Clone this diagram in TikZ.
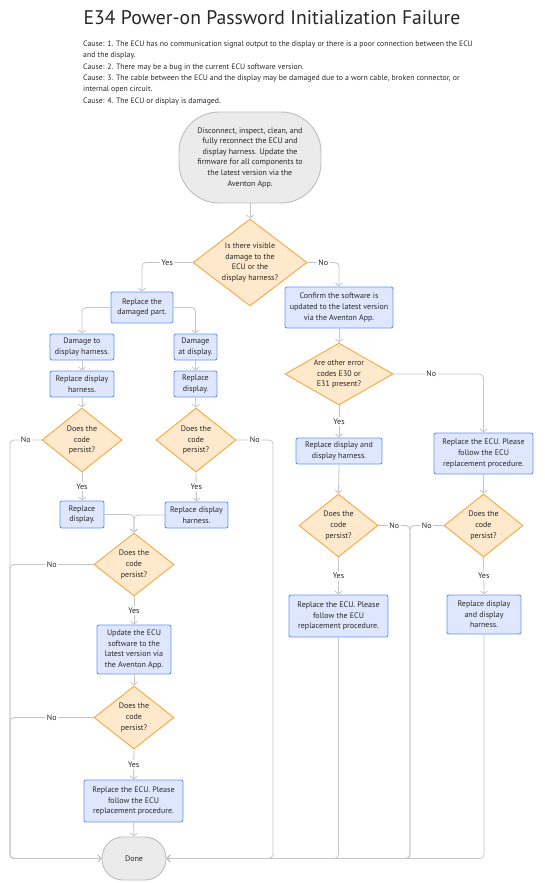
\documentclass[tikz,border=0pt]{standalone}
\usepackage{fontspec}
\setmainfont{PT Sans}
\usetikzlibrary{shapes.geometric,arrows.meta}
\definecolor{boxfill}{RGB}{222,231,253}
\definecolor{boxline}{RGB}{100,149,245}
\definecolor{diafill}{RGB}{255,233,204}
\definecolor{dialine}{RGB}{247,166,65}
\definecolor{termfill}{RGB}{235,235,235}
\definecolor{termline}{RGB}{190,190,190}
\definecolor{linec}{RGB}{196,197,202}
\definecolor{txt}{RGB}{40,40,40}
\begin{document}
\begin{tikzpicture}[x=1pt,y=-1pt,
  font=\fontsize{8}{10.6}\selectfont, text=txt,
  box/.style={draw=boxline, fill=boxfill, rounded corners=2pt, line width=0.9pt, align=center, inner sep=0pt},
  term/.style={draw=termline, fill=termfill, line width=0.9pt, align=center, inner sep=0pt},
  dia/.style={diamond, draw=dialine, fill=diafill, line width=0.9pt, inner sep=0pt},
  dtext/.style={align=center, text=txt, inner sep=0pt},
  conn/.style={draw=linec, line width=0.8pt, rounded corners=4pt},
  arr/.style={conn, -{Straight Barb[length=3pt,width=7pt]}},
  lbl/.style={fill=white, inner sep=1.5pt, text=txt}]
\useasboundingbox (0,0) rectangle (544,883);
\fill[white] (0,0) rectangle (544,883);

\node[anchor=base, font=\fontsize{19.7}{22}\selectfont] (title) at (272,25) {E34 Power-on Password Initialization Failure};
\node[anchor=north west, align=left, inner sep=0pt, font=\fontsize{7.8}{11.4}\selectfont] (causes) at (83,40.5) {Cause: 1. The ECU has no communication signal output to the display or there is a poor connection between the ECU\\and the display.\\Cause: 2. There may be a bug in the current ECU software version.\\Cause: 3. The cable between the ECU and the display may be damaged due to a worn cable, broken connector, or\\internal open circuit.\\Cause: 4. The ECU or display is damaged.};

% nodes
\node[term, rounded corners=40pt, minimum width=142pt, minimum height=91pt] (start) at (250,157.5) {Disconnect, inspect, clean, and\\fully reconnect the ECU and\\display harness. Update the\\firmware for all components to\\the latest version via the\\Aventon App.};
\node[dia, minimum width=114pt, minimum height=87pt, label={[dtext]center:{Is there visible\\damage to the\\ECU or the\\display harness?}}] (d1) at (250,262.5) {};
\node[box, minimum width=62pt, minimum height=31pt] (b1) at (142,307.5) {Replace the\\damaged part.};
\node[box, minimum width=108pt, minimum height=41pt] (b2) at (339,307.5) {Confirm the software is\\updated to the latest version\\via the Aventon App.};
\node[box, minimum width=64pt, minimum height=26pt] (h1) at (82,347) {Damage to\\display harness.};
\node[box, minimum width=43pt, minimum height=26pt] (h2) at (195.5,347) {Damage\\at display.};
\node[box, minimum width=64pt, minimum height=26pt] (r1) at (82,384) {Replace display\\harness.};
\node[box, minimum width=43pt, minimum height=26pt] (r2) at (195.5,384) {Replace\\display.};
\node[dia, minimum width=80pt, minimum height=64pt, label={[dtext]center:{Does the\\code\\persist?}}] (dl) at (82,440) {};
\node[dia, minimum width=80pt, minimum height=64pt, label={[dtext]center:{Does the\\code\\persist?}}] (dr) at (196,440) {};
\node[box, minimum width=44pt, minimum height=27pt] (rd) at (82,514.5) {Replace\\display.};
\node[box, minimum width=63pt, minimum height=26pt] (rh) at (196.5,515) {Replace display\\harness.};
\node[dia, minimum width=80pt, minimum height=63pt, label={[dtext]center:{Does the\\code\\persist?}}] (d3) at (134,564.5) {};
\node[box, minimum width=74pt, minimum height=49pt] (u) at (134,649.5) {Update the ECU\\software to the\\latest version via\\the Aventon App.};
\node[dia, minimum width=80pt, minimum height=63pt, label={[dtext]center:{Does the\\code\\persist?}}] (d4) at (134,717.5) {};
\node[box, minimum width=99pt, minimum height=42pt] (e1) at (133.5,801) {Replace the ECU. Please\\follow the ECU\\replacement procedure.};
\node[term, rounded corners=21pt, minimum width=64pt, minimum height=43pt] (done) at (134,858.5) {Done};
\node[dia, minimum width=108pt, minimum height=62pt, label={[dtext]center:{Are other error\\codes E30 or\\E31 present?}}] (d5) at (339,374) {};
\node[box, minimum width=99pt, minimum height=41pt] (e3) at (483.5,453.5) {Replace the ECU. Please\\follow the ECU\\replacement procedure.};
\node[box, minimum width=86pt, minimum height=26pt] (b3) at (339,451) {Replace display and\\display harness.};
\node[dia, minimum width=79pt, minimum height=63pt, label={[dtext]center:{Does the\\code\\persist?}}] (d6) at (338.5,525.5) {};
\node[dia, minimum width=79pt, minimum height=63pt, label={[dtext]center:{Does the\\code\\persist?}}] (d7) at (483.5,525.5) {};
\node[box, minimum width=99pt, minimum height=42pt] (e2) at (338.5,616) {Replace the ECU. Please\\follow the ECU\\replacement procedure.};
\node[box, minimum width=74pt, minimum height=39pt] (b4) at (484,614.5) {Replace display\\and display\\harness.};

\coordinate (lb) at (10,858.5);
\coordinate (rb) at (273,858.5);
\coordinate (mb) at (410,858.5);

% connectors
\draw[arr] (start.south) -- (d1.north);
\draw[arr] (d1.west) -- node[lbl]{Yes} (d1.west -| b1.north) -- (b1.north);
\draw[arr] (d1.east) -- node[lbl]{No} (d1.east -| b2.north) -- (b2.north);
\draw[arr] (b1.west) -- (b1.west -| h1.north) -- (h1.north);
\draw[arr] (b1.east) -- (b1.east -| h2.north) -- (h2.north);
\draw[arr] (h1.south) -- (r1.north);
\draw[arr] (h2.south) -- (r2.north);
\draw[arr] (r1.south) -- (dl.north);
\draw[arr] (r2.south) -- (dr.north);
\draw[arr] (dl.west) -- node[lbl]{No} (dl.west -| lb) -- (lb) -- (done.west);
\draw[arr] (dr.east) -- node[lbl]{No} (dr.east -| rb) -- (rb) -- (done.east);
\draw[arr] (dl.south) -- node[lbl]{Yes} (rd.north);
\draw[arr] (dr.south) -- node[lbl]{Yes} (rh.north);
\draw[arr] (rd.east) -- (rd.east -| d3.north) -- (d3.north);
\draw[arr] (rh.west) -- (rh.west -| d3.north) -- (d3.north);
\draw[arr] (d3.west) -- node[lbl]{No} (d3.west -| lb) -- (lb) -- (done.west);
\draw[arr] (d3.south) -- node[lbl]{Yes} (u.north);
\draw[arr] (u.south) -- (d4.north);
\draw[arr] (d4.west) -- node[lbl]{No} (d4.west -| lb) -- (lb) -- (done.west);
\draw[arr] (d4.south) -- node[lbl]{Yes} (e1.north);
\draw[arr] (e1.south) -- (done.north);
\draw[arr] (b2.south) -- (d5.north);
\draw[arr] (d5.east) -- node[lbl, pos=0.42]{No} (d5.east -| e3.north) -- (e3.north);
\draw[arr] (d5.south) -- node[lbl]{Yes} (b3.north);
\draw[arr] (b3.south) -- (d6.north);
\draw[arr] (e3.south) -- (d7.north);
\draw[arr] (d6.south) -- node[lbl]{Yes} (e2.north);
\draw[arr] (d7.south) -- node[lbl]{Yes} (b4.north);
\draw[arr] (d6.east) -- node[lbl]{No} (d6.east -| mb) -- (mb) -- (done.east);
\draw[arr] (d7.west) -- node[lbl]{No} (d7.west -| mb) -- (mb) -- (done.east);
\draw[arr] (e2.south) -- (e2.south |- done.east) -- (done.east);
\draw[arr] (b4.south) -- (b4.south |- done.east) -- (done.east);
\end{tikzpicture}
\end{document}
